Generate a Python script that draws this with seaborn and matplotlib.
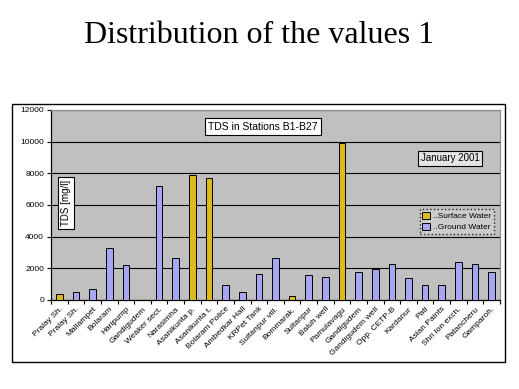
import numpy as np
import pandas as pd
import matplotlib
matplotlib.use("Agg")
import matplotlib.pyplot as plt
from matplotlib.patches import Rectangle
from matplotlib.ticker import FixedLocator
import seaborn as sns

# station data (B1-B27), TDS in mg/l, January 2001
stations = ["B%d" % i for i in range(1, 28)]
names = ["Pralay Sh.", "Pralay Sh.", "Mallampet", "Bolaram", "Haripump",
         "Gandigudem", "Weaker sect.", "Narasimha", "Asanikunta p.",
         "Asanikunta t.", "Bolaram Police", "Ambedkar Hall", "KRPet Tank",
         "Sultanpur vill.", "Bommarak.", "Sultanpur", "Baluh well",
         "Pamulavagu", "Gandigudem", "Gandigudem well", "Opp. CETP-B",
         "Kardanur", "Pati", "Asian Paints", "Shri Ion exch.", "Patancheru",
         "Gamparoh."]
tds = [400, 500, 700, 3300, 2200, np.nan, 7200, 2650, 7900, 7700,
       950, 500, 1650, 2650, 250, 1580, 1450, 9900, 1750, 1960,
       2250, 1370, 950, 950, 2380, 2250, 1750]
water = ["S", "G", "G", "G", "G", "G", "G", "G", "S", "S",
         "G", "G", "G", "G", "S", "G", "G", "S", "G", "G",
         "G", "G", "G", "G", "G", "G", "G"]
legend_labels = {"S": "..Surface Water", "G": "..Ground Water"}

df = pd.DataFrame(dict(station=stations, tds=tds,
                       water=[legend_labels[w] for w in water])).dropna()

sns.set_style("white")
plt.rcParams["font.family"] = ["Liberation Sans", "DejaVu Sans"]
plt.rcParams["text.color"] = "black"
plt.rcParams["xtick.color"] = "black"
plt.rcParams["ytick.color"] = "black"

fig = plt.figure(figsize=(5.19, 3.89), dpi=100)
W, H = 519, 389

# outer chart frame
fig.patches.append(Rectangle((12 / W, 1 - 362 / H), 493 / W, 258 / H,
                             transform=fig.transFigure, fill=False,
                             edgecolor="black", lw=1.0))

fig.text(0.5, 1 - 43 / H, "Distribution of the values 1", ha="center",
         va="baseline", family=["Liberation Serif"], size=23, color="black")

ax = fig.add_axes([51 / W, 1 - 300 / H, 449 / W, 190 / H])
ax.set_facecolor("#C0C0C0")

sns.barplot(data=df, x="station", y="tds", hue="water", order=stations,
            hue_order=["..Surface Water", "..Ground Water"],
            palette=["#FFCC00", "#9999FF"], dodge=False, width=0.4,
            edgecolor="black", linewidth=0.7, errorbar=None, ax=ax,
            zorder=3)

ax.set_ylim(0, 12000)
ax.set_xlim(-0.5, 26.5)
ax.set_yticks(range(0, 12001, 2000))
ax.yaxis.grid(True, color="black", lw=0.8, zorder=1)
ax.set_axisbelow(True)
ax.tick_params(axis="y", labelsize=6, length=3, width=0.8, direction="out",
               left=True, pad=2, colors="black")
ax.set_xticks(range(len(names)))
ax.set_xticklabels(names, rotation=45, ha="right", rotation_mode="anchor",
                   size=6)
ax.tick_params(axis="x", which="major", length=0, pad=4, colors="black")
ax.xaxis.set_minor_locator(FixedLocator(np.arange(-0.5, 27, 1)))
ax.tick_params(axis="x", which="minor", length=3, width=0.8,
               direction="out", bottom=True, colors="black")
ax.set_xlabel("")
ax.set_ylabel("")
for s in ["left", "bottom"]:
    ax.spines[s].set_color("black")
    ax.spines[s].set_linewidth(0.9)
for s in ["top", "right"]:
    ax.spines[s].set_color("#909090")
    ax.spines[s].set_linewidth(0.9)

leg = ax.legend(loc="upper right", bbox_to_anchor=(0.995, 0.50), fontsize=6,
                frameon=True, fancybox=False, handlelength=1.0,
                handleheight=1.0, handletextpad=0.3, borderpad=0.3,
                labelspacing=0.3)
leg.get_frame().set_edgecolor("black")
leg.get_frame().set_linestyle(":")
leg.get_frame().set_facecolor("#D0D0D0")
for t in leg.get_texts():
    t.set_color("black")

ax.text(0.472, 0.913, "TDS in Stations B1-B27", transform=ax.transAxes,
        ha="center", va="center", size=7.5, color="black",
        bbox=dict(boxstyle="square,pad=0.3", fc="white", ec="black", lw=0.8))
ax.text(0.889, 0.745, "January 2001", transform=ax.transAxes,
        ha="center", va="center", size=7, color="black",
        bbox=dict(boxstyle="square,pad=0.3", fc="#E4E4E4", ec="black", lw=0.8))
ax.text(0.033, 0.51, "TDS [mg/l]", transform=ax.transAxes, rotation=90,
        ha="center", va="center", size=7, color="black",
        bbox=dict(boxstyle="square,pad=0.3", fc="white", ec="black", lw=0.8))

fig.savefig("out.png", dpi=100, facecolor="white")
